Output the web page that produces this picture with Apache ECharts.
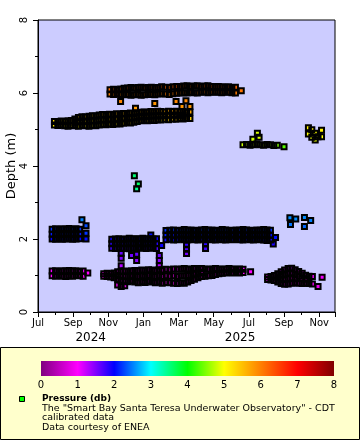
<!DOCTYPE html>
<html><head><meta charset="utf-8">
<script src="https://cdn.jsdelivr.net/npm/echarts@6/dist/echarts.min.js"></script>
<style>html,body{margin:0;padding:0;background:#fff}#c{width:360px;height:440px}</style>
</head><body><div id="c"></div><script>
// ---- data: [day offset from 2024-07-01, depth (m), pressure (db)] ----
const startDate = '2024-07-01';
const endDate = '2025-11-28';

const aUpper = [[29,5.22,5.3],[35,5.21,5.3],[41,5.23,5.3],[47,5.22,5.3],[53,5.24,5.3],[59,5.25,5.35],[65,5.29,5.4],[71,5.33,5.4],[77,5.35,5.45],[83,5.34,5.4],[89,5.36,5.45],[95,5.38,5.45],[101,5.37,5.45],[107,5.40,5.5],[113,5.41,5.5],[119,5.39,5.5],[125,5.42,5.55],[131,5.41,5.5],[137,5.43,5.55],[143,5.42,5.55],[149,5.44,5.55],[155,5.43,5.55],[161,5.45,5.6],[167,5.44,5.55],[173,5.46,5.6],[179,5.47,5.6],[185,5.48,5.65],[191,5.47,5.6],[197,5.49,5.65],[203,5.48,5.65],[209,5.50,5.7],[215,5.49,5.65],[221,5.48,5.65],[227,5.50,5.7],[233,5.49,5.7],[239,5.50,5.7],[245,5.48,5.65],[251,5.49,5.7],[257,5.47,5.65],[263,5.48,5.7]];
const aMid = [[65,5.20,5.25],[71,5.21,5.3],[77,5.23,5.3],[83,5.22,5.3],[89,5.23,5.3],[95,5.24,5.3],[101,5.24,5.35],[107,5.26,5.35],[113,5.27,5.35],[119,5.26,5.35],[125,5.28,5.4],[131,5.27,5.35],[137,5.29,5.4],[143,5.28,5.4],[149,5.30,5.4],[155,5.31,5.4],[161,5.32,5.45],[167,5.32,5.45],[173,5.34,5.45],[179,5.35,5.45],[185,5.36,5.5],[191,5.36,5.5],[197,5.37,5.5],[203,5.37,5.5],[209,5.38,5.5],[215,5.38,5.5],[221,5.38,5.5],[227,5.39,5.55],[233,5.39,5.5],[239,5.39,5.55],[245,5.39,5.5],[251,5.39,5.55]];
const aLower = [[29,5.12,5.15],[35,5.11,5.1],[41,5.12,5.15],[47,5.10,5.1],[53,5.09,5.1],[59,5.11,5.15],[65,5.10,5.1],[71,5.09,5.1],[77,5.11,5.15],[83,5.10,5.1],[89,5.09,5.1],[95,5.11,5.15],[101,5.10,5.1],[107,5.12,5.15],[113,5.14,5.2],[119,5.13,5.15],[125,5.15,5.2],[131,5.14,5.2],[137,5.16,5.2],[143,5.15,5.2],[149,5.17,5.25],[155,5.19,5.25],[161,5.18,5.25],[167,5.20,5.3],[173,5.22,5.3],[179,5.24,5.3],[185,5.25,5.35],[191,5.24,5.3],[197,5.26,5.35],[203,5.25,5.35],[209,5.27,5.35],[215,5.26,5.35],[221,5.28,5.4],[227,5.27,5.35],[233,5.29,5.4],[239,5.28,5.4],[245,5.30,5.4],[251,5.29,5.4],[257,5.31,5.45],[263,5.30,5.4]];
const aExtra = [[144,5.77,5.95],[170,5.58,5.8],[204,5.71,5.85],[239,5.77,5.95],[249,5.63,5.85],[256,5.79,5.95],[263,5.63,5.85]];

const bUpper = [[126,6.09,6.15],[132,6.10,6.15],[138,6.08,6.15],[144,6.11,6.15],[150,6.13,6.2],[156,6.14,6.2],[162,6.15,6.2],[168,6.13,6.2],[174,6.15,6.2],[180,6.16,6.2],[186,6.14,6.2],[192,6.15,6.2],[198,6.16,6.2],[204,6.14,6.2],[210,6.15,6.2],[216,6.17,6.25],[222,6.16,6.2],[228,6.15,6.2],[234,6.17,6.25],[240,6.18,6.25],[246,6.17,6.25],[252,6.19,6.25],[258,6.20,6.25],[264,6.18,6.25],[270,6.19,6.25],[276,6.20,6.25],[282,6.18,6.25],[288,6.19,6.25],[294,6.20,6.25],[300,6.18,6.25],[306,6.17,6.2],[312,6.18,6.25],[318,6.17,6.2],[324,6.16,6.2],[330,6.17,6.2],[336,6.15,6.2],[342,6.16,6.2]];
const bLower = [[126,5.97,6.0],[132,5.96,6.0],[138,5.98,6.05],[144,5.96,6.0],[150,5.95,6.0],[156,5.96,6.0],[162,5.94,6.0],[168,5.95,6.0],[174,5.96,6.0],[180,5.94,6.0],[186,5.95,6.0],[192,5.97,6.05],[198,5.96,6.0],[204,5.95,6.0],[210,5.97,6.05],[216,5.98,6.05],[222,5.97,6.05],[228,5.96,6.0],[234,5.98,6.05],[240,5.99,6.05],[246,6.00,6.05],[252,6.01,6.05],[258,6.00,6.05],[264,6.02,6.1],[270,6.01,6.05],[276,6.00,6.05],[282,6.02,6.1],[288,6.03,6.1],[294,6.01,6.05],[300,6.02,6.1],[306,6.03,6.1],[312,6.02,6.1],[318,6.01,6.05],[324,6.03,6.1],[330,6.02,6.1],[336,6.01,6.05],[342,6.00,6.05]];
const bExtra = [[352,6.06,6.1]];

const cRow = [[355,4.58,4.8],[361,4.59,4.8],[367,4.57,4.75],[373,4.58,4.75],[379,4.60,4.75],[385,4.58,4.7],[391,4.57,4.7],[397,4.59,4.65],[403,4.58,4.6],[409,4.56,4.55],[415,4.57,4.5]];
const cExtra = [[372,4.73,4.8],[380,4.90,4.85],[383,4.79,4.85],[427,4.53,4.35]];

const dPts = [[469,5.05,5.1],[469,4.88,5.0],[475,4.99,5.05],[475,4.79,4.95],[481,4.90,5.0],[481,4.71,4.9],[486,4.80,4.95],[492,4.80,5.0],[492,4.98,5.1]];
const ePts = [[168,3.73,3.55],[172,3.38,3.45],[175,3.51,3.6]];

const fUpper = [[25,2.27,2.2],[31,2.28,2.2],[37,2.26,2.2],[43,2.28,2.2],[49,2.27,2.2],[55,2.29,2.25],[61,2.27,2.2],[67,2.28,2.2],[73,2.27,2.2]];
const fMid = [[25,2.13,2.1],[31,2.14,2.1],[37,2.12,2.1],[43,2.13,2.1],[49,2.15,2.1],[55,2.14,2.1],[61,2.13,2.1],[67,2.15,2.1],[73,2.14,2.1]];
const fLower = [[25,2.00,2.0],[31,1.99,2.0],[37,2.01,2.0],[43,1.99,2.0],[49,2.00,2.0],[55,2.01,2.0],[61,1.99,2.0],[67,2.00,2.0],[73,2.01,2.0]];
const fExtra = [[84,2.00,2.05],[84,2.16,2.2],[84,2.36,2.3],[77,2.53,2.5]];

const jUpper = [[25,1.12,1.05],[31,1.13,1.05],[37,1.11,1.05],[43,1.13,1.05],[49,1.12,1.05],[55,1.14,1.05],[61,1.12,1.05],[67,1.13,1.05],[73,1.11,1.05],[79,1.12,1.05]];
const jLower = [[25,0.99,0.95],[31,0.98,0.95],[37,1.00,0.95],[43,0.98,0.95],[49,0.97,0.9],[55,0.99,0.95],[61,0.98,0.95],[67,1.00,0.95],[73,0.99,0.95],[79,0.98,0.95]];
const jExtra = [[87,1.07,1.0]];

const kUpper = [[115,1.05,0.95],[121,1.06,0.95],[127,1.05,0.95],[133,1.07,1.0],[139,1.10,1.0],[145,1.11,1.0],[151,1.12,1.0],[157,1.11,1.0],[163,1.13,1.05],[169,1.14,1.05],[175,1.13,1.05],[181,1.15,1.05],[187,1.14,1.05],[193,1.16,1.05],[199,1.15,1.05],[205,1.14,1.05],[211,1.16,1.05],[217,1.15,1.05],[223,1.17,1.1],[229,1.16,1.05],[235,1.18,1.1],[241,1.17,1.1],[247,1.18,1.1],[253,1.19,1.1],[259,1.18,1.1],[265,1.17,1.1],[271,1.19,1.1],[277,1.18,1.1],[283,1.19,1.1],[289,1.18,1.1],[295,1.17,1.1],[301,1.18,1.1],[307,1.19,1.1],[313,1.18,1.1],[319,1.17,1.1],[325,1.18,1.1],[331,1.19,1.1],[337,1.18,1.1],[343,1.17,1.1],[349,1.18,1.1],[355,1.17,1.1]];
const kMid = [[139,1.00,0.95],[145,0.98,0.9],[151,0.98,0.9],[157,0.97,0.9],[163,0.99,0.9],[169,0.98,0.9],[175,0.97,0.9],[181,0.99,0.9],[187,0.97,0.9],[193,1.00,0.95],[199,0.98,0.9],[205,0.97,0.9],[211,0.99,0.9],[217,0.97,0.9],[223,0.99,0.9],[229,0.98,0.9],[235,0.99,0.9],[241,0.97,0.9],[247,0.99,0.9],[253,0.99,0.9],[259,1.00,0.95],[265,1.01,0.95],[271,1.04,1.0],[277,1.06,1.0],[283,1.08,1.0]];
const kLower = [[115,0.98,0.9],[121,0.97,0.9],[127,0.96,0.9],[133,0.94,0.85],[139,0.90,0.85],[145,0.86,0.8],[151,0.84,0.8],[157,0.83,0.8],[163,0.85,0.8],[169,0.82,0.75],[175,0.80,0.75],[181,0.83,0.8],[187,0.81,0.75],[193,0.84,0.8],[199,0.82,0.75],[205,0.80,0.75],[211,0.82,0.75],[217,0.79,0.75],[223,0.81,0.75],[229,0.80,0.75],[235,0.79,0.75],[241,0.78,0.7],[247,0.80,0.75],[253,0.79,0.75],[259,0.82,0.75],[265,0.86,0.8],[271,0.90,0.85],[277,0.94,0.85],[283,0.97,0.9],[289,0.98,0.9],[295,0.99,0.9],[301,1.00,0.95],[307,1.03,0.95],[313,1.05,1.0],[319,1.06,1.0],[325,1.07,1.0],[331,1.08,1.0],[337,1.07,1.0],[343,1.08,1.0],[349,1.07,1.0],[355,1.08,1.0]];
const kExtra = [[139,0.74,0.7],[145,0.70,0.65],[151,0.72,0.7],[368,1.10,1.0]];

const gUpper = [[129,1.99,1.95],[135,2.00,1.95],[141,2.01,1.95],[147,1.99,1.9],[153,2.00,1.95],[159,2.02,1.95],[165,2.01,1.95],[171,2.00,1.95],[177,2.01,1.95],[183,2.02,2.0],[189,2.00,1.95],[195,2.01,1.95],[201,2.00,1.95],[207,2.01,1.95]];
const gMid = [[129,1.87,1.85],[135,1.88,1.85],[141,1.86,1.8],[147,1.88,1.85],[153,1.87,1.85],[159,1.89,1.85],[165,1.88,1.85],[171,1.87,1.85],[177,1.88,1.85],[183,1.86,1.8],[189,1.88,1.85],[195,1.87,1.85],[201,1.88,1.85],[207,1.87,1.85]];
const gLower = [[129,1.75,1.75],[135,1.74,1.7],[141,1.76,1.75],[147,1.74,1.7],[153,1.75,1.75],[159,1.73,1.7],[165,1.75,1.75],[171,1.74,1.7],[177,1.76,1.75],[183,1.75,1.75],[189,1.74,1.7],[195,1.76,1.75],[201,1.75,1.75],[207,1.74,1.7]];
const gExtra = [[145,1.61,1.6],[145,1.47,1.5],[145,1.27,1.3],[163,1.55,1.55],[172,1.58,1.6],[172,1.41,1.45],[197,2.11,2.05],[212,1.41,1.45],[212,1.55,1.55],[212,1.27,1.3],[216,1.82,1.95]];

const hUpper = [[223,2.23,2.2],[229,2.24,2.2],[235,2.25,2.2],[241,2.23,2.2],[247,2.24,2.2],[253,2.26,2.2],[259,2.24,2.2],[265,2.25,2.2],[271,2.23,2.2],[277,2.24,2.2],[283,2.25,2.2],[289,2.26,2.2],[295,2.24,2.2],[301,2.25,2.2],[307,2.23,2.2],[313,2.24,2.2],[319,2.26,2.2],[325,2.25,2.2],[331,2.24,2.2],[337,2.23,2.2],[343,2.25,2.2],[349,2.24,2.2],[355,2.26,2.2],[361,2.25,2.2],[367,2.24,2.2],[373,2.23,2.2],[379,2.25,2.2],[385,2.24,2.2],[391,2.26,2.2],[397,2.25,2.2],[403,2.24,2.2]];
const hMid = [[223,2.11,2.1],[229,2.12,2.1],[235,2.10,2.05],[241,2.11,2.1],[247,2.12,2.1],[253,2.11,2.1],[259,2.10,2.05],[265,2.12,2.1],[271,2.11,2.1],[277,2.10,2.05],[283,2.11,2.1],[289,2.12,2.1],[295,2.11,2.1],[301,2.10,2.05],[307,2.12,2.1],[313,2.11,2.1],[319,2.10,2.05],[325,2.11,2.1],[331,2.12,2.1],[337,2.11,2.1],[343,2.10,2.05],[349,2.12,2.1],[355,2.11,2.1],[361,2.10,2.05],[367,2.11,2.1],[373,2.12,2.1],[379,2.11,2.1],[385,2.10,2.05],[391,2.12,2.1],[397,2.11,2.1],[403,2.10,2.05]];
const hLower = [[223,1.98,1.95],[229,1.99,1.95],[235,1.97,1.95],[241,1.98,1.95],[247,2.00,1.95],[253,1.98,1.95],[259,1.97,1.95],[265,1.99,1.95],[271,1.98,1.95],[277,1.97,1.95],[283,1.99,1.95],[289,1.98,1.95],[295,2.00,1.95],[301,1.98,1.95],[307,1.97,1.95],[313,1.99,1.95],[319,1.98,1.95],[325,1.97,1.95],[331,1.99,1.95],[337,1.98,1.95],[343,2.00,1.95],[349,1.98,1.95],[355,1.97,1.95],[361,1.99,1.95],[367,1.98,1.95],[373,1.97,1.95],[379,1.99,1.95],[385,1.98,1.95],[391,1.97,1.95],[397,1.96,1.9],[403,1.97,1.95]];
const hExtra = [[257,1.72,1.7],[257,1.84,1.8],[257,1.60,1.55],[290,1.86,1.85],[290,1.74,1.75],[408,1.86,1.9],[412,2.04,2.05]];

const iPts = [[437,2.58,2.55],[438,2.40,2.45],[447,2.55,2.55],[462,2.59,2.55],[462,2.34,2.4],[473,2.51,2.5]];

const lUpper = [[398,0.96,1.05],[404,0.97,1.05],[410,1.00,1.05],[416,1.05,1.1],[422,1.10,1.15],[428,1.15,1.15],[434,1.19,1.2],[440,1.20,1.2],[446,1.16,1.15],[452,1.11,1.1],[458,1.06,1.1],[464,1.01,1.05],[470,0.98,1.05],[476,0.97,1.05]];
const lMid1 = [[416,0.94,1.0],[422,1.01,1.05],[428,1.04,1.1],[434,1.06,1.1],[440,1.07,1.1],[446,1.03,1.05],[452,0.98,1.05],[458,0.92,1.0],[464,0.90,1.0]];
const lMid2 = [[422,0.89,0.95],[428,0.90,0.95],[434,0.91,0.95],[440,0.93,1.0],[446,0.91,0.95]];
const lLower = [[398,0.89,0.95],[404,0.88,0.95],[410,0.86,0.95],[416,0.82,0.9],[422,0.78,0.9],[428,0.76,0.85],[434,0.77,0.85],[440,0.79,0.9],[446,0.80,0.9],[452,0.79,0.9],[458,0.78,0.9],[464,0.79,0.9],[470,0.78,0.9],[476,0.77,0.85]];
const lExtra = [[486,0.70,0.85],[493,0.95,1.05]];

const monthTickLabels = ['Jul','Sep','Nov','Jan','Mar','May','Jul','Sep','Nov'];
const yearLabels = ['2024','2025'];
const depthTicks = [0, 2, 4, 6, 8];
const colorbarTicks = [0,1,2,3,4,5,6,7,8];
const palette = ['#800080','#ff00ff','#0000ff','#00ffff','#00ff00','#ffff00','#ff8000','#ff0000','#800000'];
const legendTitle = 'Pressure (db)';
const legendLines = ['The "Smart Bay Santa Teresa Underwater Observatory" - CDT','calibrated data','Data courtesy of ENEA'];

// ---- helpers: convert a date to months since the start month ----
function monthsSinceStart(date) {
  const y = date.getUTCFullYear(), m = date.getUTCMonth();
  const dim = new Date(Date.UTC(y, m + 1, 0)).getUTCDate();
  return (y - 2024) * 12 + (m - 6) + (date.getUTCDate() - 1) / dim;
}
const t0 = Date.parse(startDate + 'T00:00:00Z');
function dayToMonths(day) { return monthsSinceStart(new Date(t0 + day * 86400000)); }
const xMax = monthsSinceStart(new Date(Date.parse(endDate + 'T00:00:00Z')));

const allRows = [fUpper, fMid, fLower, fExtra, jUpper, jLower, jExtra,
  aUpper, aMid, aLower, bUpper, bLower, aExtra, bExtra,
  kUpper, kMid, kLower, kExtra, gUpper, gMid, gLower, gExtra, ePts,
  hUpper, hMid, hLower, hExtra, cRow, cExtra, lUpper, lMid1, lMid2, lLower, lExtra, iPts, dPts];
const points = [];
allRows.forEach(r => r.forEach(p => points.push([dayToMonths(p[0]), p[1], p[2]])));

const yearCenters = [(0 + 6) / 2, (6 + xMax) / 2];
const FONT = 'DejaVu Sans';

const chart = echarts.init(document.getElementById('c'), null, {renderer: 'canvas'});
chart.setOption({
  animation: false,
  backgroundColor: '#ffffff',
  textStyle: {fontFamily: FONT, color: '#000'},
  grid: [
    {left: 38, right: 25, top: 20, bottom: 128, containLabel: false, outerBoundsMode: 'none', show: true, backgroundColor: '#ccccff', borderColor: '#000', borderWidth: 1},
    {left: 41, right: 26, top: 361, height: 15, containLabel: false, outerBoundsMode: 'none', show: false}
  ],
  xAxis: [
    {type: 'value', gridIndex: 0, min: 0, max: xMax, interval: 2,
     axisLine: {lineStyle: {color: '#000'}}, splitLine: {show: false},
     axisTick: {length: 5, lineStyle: {color: '#000'}},
     minorTick: {show: true, splitNumber: 2, length: 3, lineStyle: {color: '#000'}},
     axisLabel: {fontFamily: FONT, fontSize: 10, color: '#000', margin: 6,
       formatter: v => monthTickLabels[Math.round(v / 2)] || ''}},
    {type: 'value', gridIndex: 0, min: 0, max: xMax, interval: 0.5, position: 'bottom',
     axisLine: {show: false}, axisTick: {show: false}, splitLine: {show: false},
     axisLabel: {fontFamily: FONT, fontSize: 12, color: '#000', margin: 20, showMinLabel: true, showMaxLabel: false,
       formatter: v => { for (let i = 0; i < yearCenters.length; i++) { if (Math.abs(v - yearCenters[i]) < 0.26) return yearLabels[i]; } return ''; }}},
    {type: 'value', gridIndex: 1, min: 0, max: 8, interval: 1,
     axisLine: {show: false}, axisTick: {show: false}, splitLine: {show: false},
     axisLabel: {fontFamily: FONT, fontSize: 10, color: '#000', margin: 4,
       formatter: v => colorbarTicks.indexOf(v) >= 0 ? String(v) : ''}}
  ],
  yAxis: [
    {type: 'value', gridIndex: 0, min: 0, max: 8, interval: 2,
     name: 'Depth (m)', nameLocation: 'middle', nameGap: 20, nameRotate: 90, nameMoveOverlap: false,
     nameTextStyle: {fontFamily: FONT, fontSize: 13, color: '#000'},
     axisLine: {show: true, lineStyle: {color: '#000'}}, splitLine: {show: false},
     axisTick: {show: true, length: 5, lineStyle: {color: '#000'}},
     minorTick: {show: true, splitNumber: 2, length: 3, lineStyle: {color: '#000'}},
     axisLabel: {fontFamily: FONT, fontSize: 10, color: '#000', rotate: 90, margin: 9,
       align: 'center', verticalAlign: 'bottom', hideOverlap: false,
       formatter: v => depthTicks.indexOf(v) >= 0 ? String(v) : ''}},
    {type: 'value', gridIndex: 1, min: 0, max: 1, show: false}
  ],
  visualMap: {type: 'continuous', min: 0, max: 8, dimension: 2, seriesIndex: 0, show: false,
    inRange: {color: palette}},
  series: [
    {type: 'scatter', name: 'fill', xAxisIndex: 0, yAxisIndex: 0, data: points, symbol: 'rect', symbolSize: 5,
     silent: true, z: 2, itemStyle: {borderWidth: 0, opacity: 1}},
    {type: 'scatter', name: 'outline', xAxisIndex: 0, yAxisIndex: 0, data: points, symbol: 'rect', symbolSize: 5,
     silent: true, z: 3, itemStyle: {color: 'rgba(0,0,0,0)', borderColor: '#000', borderWidth: 2, opacity: 1}},
    {type: 'custom', xAxisIndex: 2, yAxisIndex: 1, silent: true, z: 2, data: [[0, 8]],
     renderItem: function (params, api) {
       const p0 = api.coord([api.value(0), 0]);
       const p1 = api.coord([api.value(1), 1]);
       return {type: 'rect', shape: {x: p0[0], y: p1[1], width: p1[0] - p0[0], height: p0[1] - p1[1]},
         style: {fill: new echarts.graphic.LinearGradient(0, 0, 1, 0,
           palette.map((c, i) => ({offset: i / (palette.length - 1), color: c})))}};
     }}
  ],
  graphic: [
    {type: 'rect', z: 0, silent: true, shape: {x: 0.5, y: 347.5, width: 359, height: 92},
     style: {fill: '#ffffcc', stroke: '#000', lineWidth: 1}},
    {type: 'rect', z: 1, silent: true, shape: {x: 19.5, y: 396.5, width: 5, height: 5},
     style: {fill: '#00ff00', stroke: '#000', lineWidth: 1}},
    {type: 'text', z: 1, silent: true, style: {x: 42, y: 399, text: legendTitle, fill: '#000', font: 'bold 9px "DejaVu Sans"', verticalAlign: 'middle'}},
    {type: 'text', z: 1, silent: true, style: {x: 42, y: 408.5, text: legendLines[0], fill: '#000', font: '9.5px "DejaVu Sans"', verticalAlign: 'middle'}},
    {type: 'text', z: 1, silent: true, style: {x: 42, y: 417.8, text: legendLines[1], fill: '#000', font: '9.5px "DejaVu Sans"', verticalAlign: 'middle'}},
    {type: 'text', z: 1, silent: true, style: {x: 42, y: 427.1, text: legendLines[2], fill: '#000', font: '9.5px "DejaVu Sans"', verticalAlign: 'middle'}}
  ]
});
</script></body></html>
